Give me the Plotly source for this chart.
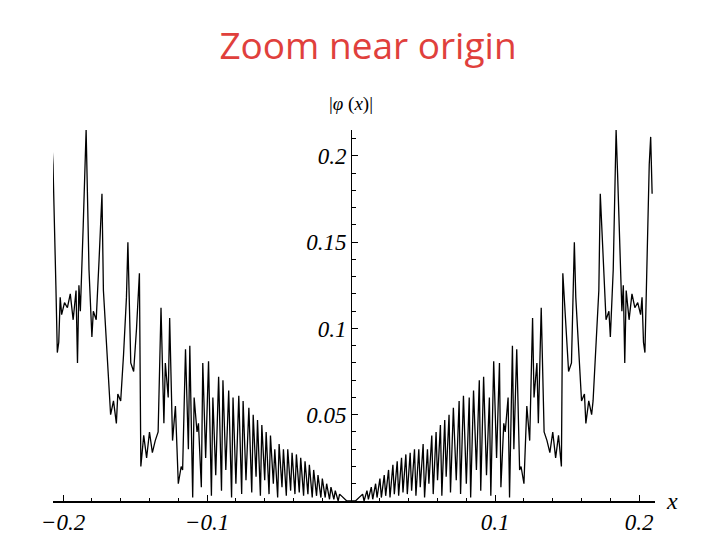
import plotly.graph_objects as go

# right half of |phi(x)| (left half is close to a mirror)
X_RIGHT = [0.003, 0.008, 0.009, 0.011, 0.012, 0.014, 0.015, 0.017, 0.018, 0.020, 0.021, 0.023, 0.024,
           0.026, 0.027, 0.029, 0.030, 0.032, 0.033, 0.035, 0.036, 0.038, 0.039, 0.041, 0.042, 0.044,
           0.045, 0.047, 0.048, 0.050, 0.051, 0.053, 0.054, 0.056, 0.057, 0.059, 0.060, 0.062, 0.063,
           0.065, 0.066, 0.068, 0.069, 0.071, 0.073, 0.075, 0.076, 0.078, 0.080, 0.082, 0.083, 0.085,
           0.087, 0.089, 0.090, 0.092, 0.094, 0.096, 0.097, 0.099, 0.101, 0.103, 0.104, 0.106, 0.107,
           0.109, 0.110, 0.112, 0.113, 0.115, 0.117, 0.118, 0.120, 0.122, 0.124, 0.126, 0.127, 0.129,
           0.130, 0.132, 0.134, 0.136, 0.138, 0.140, 0.142, 0.144, 0.146, 0.147, 0.149, 0.151, 0.153,
           0.155, 0.156, 0.158, 0.160, 0.162, 0.163, 0.165, 0.167, 0.168, 0.170, 0.172, 0.173, 0.175,
           0.177, 0.179, 0.180, 0.182, 0.184, 0.185, 0.186, 0.188, 0.189, 0.190, 0.191, 0.193, 0.195,
           0.197, 0.199, 0.201, 0.202, 0.203, 0.204, 0.205, 0.206, 0.207, 0.208, 0.209]
Y_RIGHT = [0.0, 0.004, 0.0, 0.006, 0.001, 0.008, 0.001, 0.010, 0.002, 0.013, 0.002, 0.015, 0.003,
           0.018, 0.002, 0.021, 0.004, 0.023, 0.003, 0.025, 0.005, 0.027, 0.004, 0.028, 0.006, 0.030,
           0.003, 0.030, 0.008, 0.033, 0.002, 0.030, 0.010, 0.038, 0.004, 0.040, 0.012, 0.044, 0.003,
           0.047, 0.014, 0.050, 0.005, 0.054, 0.012, 0.058, 0.004, 0.061, 0.010, 0.060, 0.002, 0.064,
           0.018, 0.070, 0.006, 0.072, 0.015, 0.060, 0.003, 0.081, 0.025, 0.080, 0.008, 0.045, 0.040,
           0.060, 0.002, 0.090, 0.030, 0.088, 0.018, 0.020, 0.010, 0.055, 0.035, 0.106, 0.060, 0.080,
           0.045, 0.112, 0.040, 0.035, 0.028, 0.040, 0.025, 0.038, 0.020, 0.132, 0.100, 0.075, 0.080,
           0.150, 0.118, 0.085, 0.058, 0.062, 0.045, 0.058, 0.050, 0.058, 0.090, 0.122, 0.178, 0.140,
           0.105, 0.110, 0.095, 0.134, 0.215, 0.190, 0.160, 0.110, 0.125, 0.080, 0.122, 0.105, 0.120,
           0.112, 0.115, 0.108, 0.118, 0.092, 0.086, 0.125, 0.150, 0.195, 0.211, 0.178]

X_TICKS = [-0.2, -0.1, 0.1, 0.2]
X_LABELS = ['−0.2', '−0.1', '0.1', '0.2']
Y_TICKS = [0.05, 0.1, 0.15, 0.2]
Y_LABELS = ['0.05', '0.1', '0.15', '0.2']

xs = [-v for v in reversed(X_RIGHT)] + [0.0] + X_RIGHT
ys = list(reversed(Y_RIGHT)) + [0.0] + Y_RIGHT

fig = go.Figure(go.Scatter(x=xs, y=ys, mode='lines',
                           line=dict(color='black', width=1.3), showlegend=False))

tickfont = dict(family='Liberation Serif', size=23, color='black')
fig.update_xaxes(range=[-0.207, 0.211], tickvals=X_TICKS, automargin=False,
                 ticktext=[f'<i>{t}</i>' for t in X_LABELS], tickfont=tickfont,
                 showgrid=False, zeroline=False, showline=True, linecolor='black', linewidth=1.5,
                 ticks='inside', ticklen=6, tickcolor='black',
                 minor=dict(dtick=0.02, ticks='inside', ticklen=3, tickcolor='black'))
fig.update_yaxes(range=[0, 0.215], tickvals=Y_TICKS, automargin=False,
                 ticktext=[f'<i>{t}</i>' for t in Y_LABELS], tickfont=tickfont,
                 anchor='free', position=0.495,
                 showgrid=False, zeroline=False, showline=True, linecolor='black', linewidth=1,
                 ticks='inside', ticklen=6, tickcolor='black',
                 minor=dict(dtick=0.01, ticks='inside', ticklen=4, tickcolor='black'))

fig.add_annotation(text='|<i>φ</i> (<i>x</i>)|', xref='paper', yref='paper', x=0.495, y=1.035,
                   yanchor='bottom', showarrow=False,
                   font=dict(family='Liberation Serif', size=19, color='black'))
fig.add_annotation(text='<i>x</i>', xref='paper', yref='paper', x=1.015, y=0.0, xanchor='left',
                   yanchor='middle', showarrow=False,
                   font=dict(family='Liberation Serif', size=24, color='black'))

fig.update_layout(
    width=720, height=540,
    title=dict(text='Zoom near origin', x=0.5, xanchor='center', y=0.93, yanchor='middle',
               font=dict(family='Open Sans', size=37, color='#e0403c')),
    plot_bgcolor='white', paper_bgcolor='white',
    margin=dict(l=45, r=73, t=122, b=47))

fig.write_html('out.html')
